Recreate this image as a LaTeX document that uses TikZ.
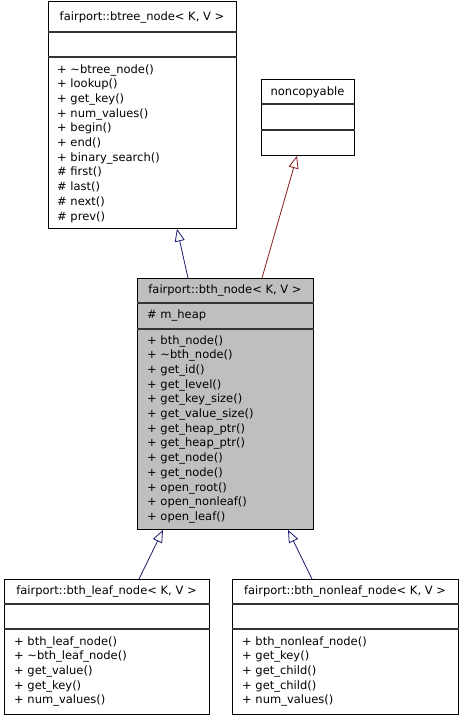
\documentclass[tikz,border=0pt]{standalone}
\usepackage{fontspec}
\setmainfont{DejaVu Sans}
\usetikzlibrary{arrows.meta}
\definecolor{inhblue}{HTML}{191970}
\definecolor{inhred}{HTML}{8B1A1A}
\definecolor{boxgray}{HTML}{BFBFBF}
\tikzset{
 classbox/.style={draw=black, line width=0.9pt, inner sep=0pt, anchor=north west},
 divider/.style={draw=black!80, line width=1.1pt},
 txt/.style={font=\fontsize{11.5}{14}\selectfont, inner sep=0pt, text height=8pt, text depth=2pt},
 mem/.style={txt, anchor=west},
 inh/.style={line width=0.8pt, -{Triangle[open, length=12.5pt, width=10pt]}},
}
\begin{document}
\begin{tikzpicture}[x=1pt,y=-1pt]
\useasboundingbox (0,0) rectangle (463,720);

% btree_node
\node[classbox, minimum width=188pt, minimum height=227pt] (btree) at (48,1) {};
\draw[divider] ([yshift=-31pt]btree.north west) -- ([yshift=-31pt]btree.north east);
\draw[divider] ([yshift=-56pt]btree.north west) -- ([yshift=-56pt]btree.north east);
\node[txt] (btree-t) at (142,17) {fairport::btree\_node< K, V >};
\foreach \s [count=\i] in {+ \textasciitilde btree\_node(), + lookup(), + get\_key(), + num\_values(), + begin(), + end(), + binary\_search(), \# first(), \# last(), \# next(), \# prev()}
  \node[mem] (btree-m\i) at (57,{70+14.7*(\i-1)}) {\s};

% noncopyable
\node[classbox, minimum width=93pt, minimum height=76pt] (nc) at (261,79) {};
\draw[divider] ([yshift=-25pt]nc.north west) -- ([yshift=-25pt]nc.north east);
\draw[divider] ([yshift=-51pt]nc.north west) -- ([yshift=-51pt]nc.north east);
\node[txt] (nc-t) at (307.5,92) {noncopyable};

% bth_node
\node[classbox, fill=boxgray, minimum width=176pt, minimum height=251pt] (bth) at (137,278) {};
\draw[divider] ([yshift=-25pt]bth.north west) -- ([yshift=-25pt]bth.north east);
\draw[divider] ([yshift=-51pt]bth.north west) -- ([yshift=-51pt]bth.north east);
\node[txt] (bth-t) at (225,290) {fairport::bth\_node< K, V >};
\node[mem] (bth-a) at (147,315) {\# m\_heap};
\foreach \s [count=\i] in {+ bth\_node(), + \textasciitilde bth\_node(), + get\_id(), + get\_level(), + get\_key\_size(), + get\_value\_size(), + get\_heap\_ptr(), + get\_heap\_ptr(), + get\_node(), + get\_node(), + open\_root(), + open\_nonleaf(), + open\_leaf()}
  \node[mem] (bth-m\i) at (147,{341+14.7*(\i-1)}) {\s};

% bth_leaf_node
\node[classbox, minimum width=205pt, minimum height=135pt] (leaf) at (4,579) {};
\draw[divider] ([yshift=-25pt]leaf.north west) -- ([yshift=-25pt]leaf.north east);
\draw[divider] ([yshift=-50pt]leaf.north west) -- ([yshift=-50pt]leaf.north east);
\node[txt] (leaf-t) at (106.5,591) {fairport::bth\_leaf\_node< K, V >};
\foreach \s [count=\i] in {+ bth\_leaf\_node(), + \textasciitilde bth\_leaf\_node(), + get\_value(), + get\_key(), + num\_values()}
  \node[mem] (leaf-m\i) at (14,{642+14.7*(\i-1)}) {\s};

% bth_nonleaf_node
\node[classbox, minimum width=226pt, minimum height=135pt] (nonleaf) at (232,579) {};
\draw[divider] ([yshift=-25pt]nonleaf.north west) -- ([yshift=-25pt]nonleaf.north east);
\draw[divider] ([yshift=-50pt]nonleaf.north west) -- ([yshift=-50pt]nonleaf.north east);
\node[txt] (nonleaf-t) at (345,591) {fairport::bth\_nonleaf\_node< K, V >};
\foreach \s [count=\i] in {+ bth\_nonleaf\_node(), + get\_key(), + get\_child(), + get\_child(), + num\_values()}
  \node[mem] (nonleaf-m\i) at (242,{642+14.7*(\i-1)}) {\s};

% inheritance
\draw[inh, draw=inhblue] ([xshift=51pt]bth.north west) -- ([xshift=129pt]btree.south west);
\draw[inh, draw=inhred] ([xshift=125pt]bth.north west) -- ([xshift=36pt]nc.south west);
\draw[inh, draw=inhblue] ([xshift=135pt]leaf.north west) -- ([xshift=26pt]bth.south west);
\draw[inh, draw=inhblue] ([xshift=80pt]nonleaf.north west) -- ([xshift=151pt]bth.south west);
\end{tikzpicture}
\end{document}
